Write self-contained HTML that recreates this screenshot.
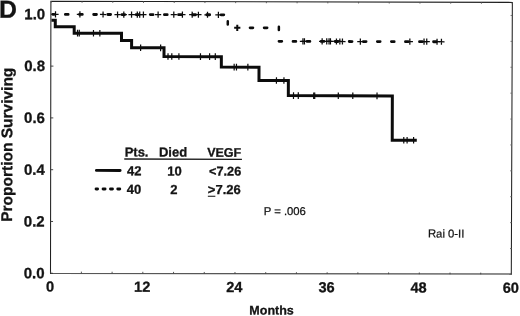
<!DOCTYPE html><html><head><meta charset="utf-8"><style>html,body{margin:0;padding:0;background:#fff;overflow:hidden}svg{display:block}text{font-family:"Liberation Sans",sans-serif;fill:#141414}text[font-weight=bold]{stroke:#141414;stroke-width:0.3px}</style></head><body>
<svg width="520" height="316" viewBox="0 0 520 316">
<rect width="520" height="316" fill="#fff"/>
<defs><filter id="b" x="0" y="0" width="520" height="316" filterUnits="userSpaceOnUse" color-interpolation-filters="sRGB"><feGaussianBlur stdDeviation="0.35"/></filter></defs>
<polygon points="50.9,1.25 512.35,2.4 511.3,274.1 50.5,273.6" fill="none" stroke="#202020" stroke-width="1.05"/>
<g filter="url(#b)">
<g transform="rotate(0.1432 281.5 137.7)">
<line x1="50.65" x2="53.25" y1="14.90" y2="14.90" stroke="#333" stroke-width="0.9"/>
<line x1="510.3" x2="511.8" y1="14.90" y2="14.90" stroke="#666" stroke-width="0.9"/>
<line x1="510.3" x2="511.8" y1="40.79" y2="40.79" stroke="#666" stroke-width="0.9"/>
<line x1="50.65" x2="53.25" y1="66.69" y2="66.69" stroke="#333" stroke-width="0.9"/>
<line x1="510.3" x2="511.8" y1="66.69" y2="66.69" stroke="#666" stroke-width="0.9"/>
<line x1="510.3" x2="511.8" y1="92.59" y2="92.59" stroke="#666" stroke-width="0.9"/>
<line x1="50.65" x2="53.25" y1="118.48" y2="118.48" stroke="#333" stroke-width="0.9"/>
<line x1="510.3" x2="511.8" y1="118.48" y2="118.48" stroke="#666" stroke-width="0.9"/>
<line x1="510.3" x2="511.8" y1="144.38" y2="144.38" stroke="#666" stroke-width="0.9"/>
<line x1="50.65" x2="53.25" y1="170.27" y2="170.27" stroke="#333" stroke-width="0.9"/>
<line x1="510.3" x2="511.8" y1="170.27" y2="170.27" stroke="#666" stroke-width="0.9"/>
<line x1="510.3" x2="511.8" y1="196.16" y2="196.16" stroke="#666" stroke-width="0.9"/>
<line x1="50.65" x2="53.25" y1="222.06" y2="222.06" stroke="#333" stroke-width="0.9"/>
<line x1="510.3" x2="511.8" y1="222.06" y2="222.06" stroke="#666" stroke-width="0.9"/>
<line x1="510.3" x2="511.8" y1="247.96" y2="247.96" stroke="#666" stroke-width="0.9"/>
<line x1="50.65" x2="53.25" y1="273.85" y2="273.85" stroke="#333" stroke-width="0.9"/>
<line x1="510.3" x2="511.8" y1="273.85" y2="273.85" stroke="#666" stroke-width="0.9"/>
<line x1="51.00" x2="51.00" y1="272.15000000000003" y2="273.85" stroke="#444" stroke-width="0.9"/>
<line x1="51.00" x2="51.00" y1="1.75" y2="3.25" stroke="#555" stroke-width="0.9"/>
<line x1="81.72" x2="81.72" y1="272.15000000000003" y2="273.85" stroke="#444" stroke-width="0.9"/>
<line x1="81.72" x2="81.72" y1="1.75" y2="3.25" stroke="#555" stroke-width="0.9"/>
<line x1="112.44" x2="112.44" y1="272.15000000000003" y2="273.85" stroke="#444" stroke-width="0.9"/>
<line x1="112.44" x2="112.44" y1="1.75" y2="3.25" stroke="#555" stroke-width="0.9"/>
<line x1="143.16" x2="143.16" y1="272.15000000000003" y2="273.85" stroke="#444" stroke-width="0.9"/>
<line x1="143.16" x2="143.16" y1="1.75" y2="3.25" stroke="#555" stroke-width="0.9"/>
<line x1="173.88" x2="173.88" y1="272.15000000000003" y2="273.85" stroke="#444" stroke-width="0.9"/>
<line x1="173.88" x2="173.88" y1="1.75" y2="3.25" stroke="#555" stroke-width="0.9"/>
<line x1="204.60" x2="204.60" y1="272.15000000000003" y2="273.85" stroke="#444" stroke-width="0.9"/>
<line x1="204.60" x2="204.60" y1="1.75" y2="3.25" stroke="#555" stroke-width="0.9"/>
<line x1="235.32" x2="235.32" y1="272.15000000000003" y2="273.85" stroke="#444" stroke-width="0.9"/>
<line x1="235.32" x2="235.32" y1="1.75" y2="3.25" stroke="#555" stroke-width="0.9"/>
<line x1="266.04" x2="266.04" y1="272.15000000000003" y2="273.85" stroke="#444" stroke-width="0.9"/>
<line x1="266.04" x2="266.04" y1="1.75" y2="3.25" stroke="#555" stroke-width="0.9"/>
<line x1="296.76" x2="296.76" y1="272.15000000000003" y2="273.85" stroke="#444" stroke-width="0.9"/>
<line x1="296.76" x2="296.76" y1="1.75" y2="3.25" stroke="#555" stroke-width="0.9"/>
<line x1="327.48" x2="327.48" y1="272.15000000000003" y2="273.85" stroke="#444" stroke-width="0.9"/>
<line x1="327.48" x2="327.48" y1="1.75" y2="3.25" stroke="#555" stroke-width="0.9"/>
<line x1="358.20" x2="358.20" y1="272.15000000000003" y2="273.85" stroke="#444" stroke-width="0.9"/>
<line x1="358.20" x2="358.20" y1="1.75" y2="3.25" stroke="#555" stroke-width="0.9"/>
<line x1="388.92" x2="388.92" y1="272.15000000000003" y2="273.85" stroke="#444" stroke-width="0.9"/>
<line x1="388.92" x2="388.92" y1="1.75" y2="3.25" stroke="#555" stroke-width="0.9"/>
<line x1="419.64" x2="419.64" y1="272.15000000000003" y2="273.85" stroke="#444" stroke-width="0.9"/>
<line x1="419.64" x2="419.64" y1="1.75" y2="3.25" stroke="#555" stroke-width="0.9"/>
<line x1="450.36" x2="450.36" y1="272.15000000000003" y2="273.85" stroke="#444" stroke-width="0.9"/>
<line x1="450.36" x2="450.36" y1="1.75" y2="3.25" stroke="#555" stroke-width="0.9"/>
<line x1="481.08" x2="481.08" y1="272.15000000000003" y2="273.85" stroke="#444" stroke-width="0.9"/>
<line x1="481.08" x2="481.08" y1="1.75" y2="3.25" stroke="#555" stroke-width="0.9"/>
<line x1="511.80" x2="511.80" y1="272.15000000000003" y2="273.85" stroke="#444" stroke-width="0.9"/>
<line x1="511.80" x2="511.80" y1="1.75" y2="3.25" stroke="#555" stroke-width="0.9"/>
<polyline points="51.20,20.87 55.00,20.87 55.00,27.24 73.93,27.24 73.93,33.65 121.25,33.65 121.25,40.89 131.37,40.89 131.37,48.13 163.80,48.13 163.80,56.83 221.16,56.83 221.16,67.25 258.84,67.25 258.84,80.50 288.23,80.50 288.23,95.60 392.25,95.60 392.25,139.90 416.80,139.90" fill="none" stroke="#0c0c0c" stroke-width="3.0" stroke-linejoin="miter"/>
<line x1="77.3" x2="77.3" y1="30.35" y2="36.95" stroke="#0c0c0c" stroke-width="1.2"/>
<line x1="79.0" x2="79.0" y1="30.35" y2="36.95" stroke="#0c0c0c" stroke-width="1.2"/>
<line x1="93.2" x2="93.2" y1="30.35" y2="36.95" stroke="#0c0c0c" stroke-width="1.2"/>
<line x1="99.6" x2="99.6" y1="30.35" y2="36.95" stroke="#0c0c0c" stroke-width="1.2"/>
<line x1="140.4" x2="140.4" y1="44.83" y2="51.43" stroke="#0c0c0c" stroke-width="1.2"/>
<line x1="160.4" x2="160.4" y1="44.83" y2="51.43" stroke="#0c0c0c" stroke-width="1.2"/>
<line x1="167.8" x2="167.8" y1="53.53" y2="60.13" stroke="#0c0c0c" stroke-width="1.2"/>
<line x1="171.6" x2="171.6" y1="53.53" y2="60.13" stroke="#0c0c0c" stroke-width="1.2"/>
<line x1="178.7" x2="178.7" y1="53.53" y2="60.13" stroke="#0c0c0c" stroke-width="1.2"/>
<line x1="200.25" x2="200.25" y1="53.53" y2="60.13" stroke="#0c0c0c" stroke-width="1.2"/>
<line x1="209.4" x2="209.4" y1="53.53" y2="60.13" stroke="#0c0c0c" stroke-width="1.2"/>
<line x1="215.1" x2="215.1" y1="53.53" y2="60.13" stroke="#0c0c0c" stroke-width="1.2"/>
<line x1="234" x2="234" y1="63.95" y2="70.55" stroke="#0c0c0c" stroke-width="1.2"/>
<line x1="236.3" x2="236.3" y1="63.95" y2="70.55" stroke="#0c0c0c" stroke-width="1.2"/>
<line x1="247.7" x2="247.7" y1="63.95" y2="70.55" stroke="#0c0c0c" stroke-width="1.2"/>
<line x1="276.3" x2="276.3" y1="77.20" y2="83.80" stroke="#0c0c0c" stroke-width="1.2"/>
<line x1="283.8" x2="283.8" y1="77.20" y2="83.80" stroke="#0c0c0c" stroke-width="1.2"/>
<line x1="293.4" x2="293.4" y1="92.30" y2="98.90" stroke="#0c0c0c" stroke-width="1.2"/>
<line x1="298.2" x2="298.2" y1="92.30" y2="98.90" stroke="#0c0c0c" stroke-width="1.2"/>
<line x1="313.6" x2="313.6" y1="92.30" y2="98.90" stroke="#0c0c0c" stroke-width="1.2"/>
<line x1="314.6" x2="314.6" y1="92.30" y2="98.90" stroke="#0c0c0c" stroke-width="1.2"/>
<line x1="338.2" x2="338.2" y1="92.30" y2="98.90" stroke="#0c0c0c" stroke-width="1.2"/>
<line x1="352.7" x2="352.7" y1="92.30" y2="98.90" stroke="#0c0c0c" stroke-width="1.2"/>
<line x1="376.9" x2="376.9" y1="92.30" y2="98.90" stroke="#0c0c0c" stroke-width="1.2"/>
<line x1="403.8" x2="403.8" y1="136.60" y2="143.20" stroke="#0c0c0c" stroke-width="1.2"/>
<line x1="407.1" x2="407.1" y1="136.60" y2="143.20" stroke="#0c0c0c" stroke-width="1.2"/>
<line x1="413.6" x2="413.6" y1="136.60" y2="143.20" stroke="#0c0c0c" stroke-width="1.2"/>
<path d="M52.45,14.95 H53.70 M65.05,14.95 H67.85 M79.20,14.95 H82.00 M93.35,14.95 H96.15 M107.50,14.95 H110.30 M121.65,14.95 H124.45 M135.80,14.95 H138.60 M149.95,14.95 H152.75 M164.10,14.95 H166.90 M178.25,14.95 H181.05 M192.40,14.95 H195.20 M206.55,14.95 H209.35 M220.70,14.95 H223.50" fill="none" stroke="#0c0c0c" stroke-width="2.8" stroke-linecap="round"/>
<path d="M227.5,21.3 V24.6" fill="none" stroke="#0c0c0c" stroke-width="2.5" stroke-linecap="round"/>
<path d="M249.8,27.9 H252.6 M263.9,27.9 H266.8" fill="none" stroke="#0c0c0c" stroke-width="2.8" stroke-linecap="round"/>
<path d="M278.6,26.7 V30" fill="none" stroke="#0c0c0c" stroke-width="2.5" stroke-linecap="round"/>
<path d="M278.75,41.35 H281.55 M292.80,41.35 H295.60 M306.85,41.35 H309.65 M320.90,41.35 H323.70 M334.95,41.35 H337.75 M349.00,41.35 H351.80 M363.05,41.35 H365.85 M377.10,41.35 H379.90 M391.15,41.35 H393.95 M405.20,41.35 H408.00 M419.25,41.35 H422.05 M433.30,41.35 H436.10" fill="none" stroke="#0c0c0c" stroke-width="2.8" stroke-linecap="round"/>
<path d="M52.10,14.95 H58.30 M55.20,11.85 V18.05" stroke="#0c0c0c" stroke-width="1.25" fill="none"/>
<path d="M76.50,14.95 H82.70 M79.60,11.85 V18.05" stroke="#0c0c0c" stroke-width="1.25" fill="none"/>
<path d="M99.65,14.95 H105.85 M102.75,11.85 V18.05" stroke="#0c0c0c" stroke-width="1.25" fill="none"/>
<path d="M114.15,14.95 H120.35 M117.25,11.85 V18.05" stroke="#0c0c0c" stroke-width="1.25" fill="none"/>
<path d="M120.40,14.95 H126.60 M123.50,11.85 V18.05" stroke="#0c0c0c" stroke-width="1.25" fill="none"/>
<path d="M128.15,14.95 H134.35 M131.25,11.85 V18.05" stroke="#0c0c0c" stroke-width="1.25" fill="none"/>
<path d="M133.90,14.95 H140.10 M137.00,11.85 V18.05" stroke="#0c0c0c" stroke-width="1.25" fill="none"/>
<path d="M136.30,14.95 H142.50 M139.40,11.85 V18.05" stroke="#0c0c0c" stroke-width="1.25" fill="none"/>
<path d="M140.00,14.95 H146.20 M143.10,11.85 V18.05" stroke="#0c0c0c" stroke-width="1.25" fill="none"/>
<path d="M154.70,14.95 H160.90 M157.80,11.85 V18.05" stroke="#0c0c0c" stroke-width="1.25" fill="none"/>
<path d="M170.40,14.95 H176.60 M173.50,11.85 V18.05" stroke="#0c0c0c" stroke-width="1.25" fill="none"/>
<path d="M179.00,14.95 H185.20 M182.10,11.85 V18.05" stroke="#0c0c0c" stroke-width="1.25" fill="none"/>
<path d="M188.80,14.95 H195.00 M191.90,11.85 V18.05" stroke="#0c0c0c" stroke-width="1.25" fill="none"/>
<path d="M195.00,14.95 H201.20 M198.10,11.85 V18.05" stroke="#0c0c0c" stroke-width="1.25" fill="none"/>
<path d="M204.10,14.95 H210.30 M207.20,11.85 V18.05" stroke="#0c0c0c" stroke-width="1.25" fill="none"/>
<path d="M215.00,14.95 H221.20 M218.10,11.85 V18.05" stroke="#0c0c0c" stroke-width="1.25" fill="none"/>
<path d="M233.90,27.90 H240.10 M237.00,24.80 V31.00" stroke="#0c0c0c" stroke-width="2.0" fill="none"/>
<path d="M299.60,41.35 H305.80 M302.70,38.25 V44.45" stroke="#0c0c0c" stroke-width="1.25" fill="none"/>
<path d="M301.10,41.35 H307.30 M304.20,38.25 V44.45" stroke="#0c0c0c" stroke-width="1.25" fill="none"/>
<path d="M318.80,41.35 H325.00 M321.90,38.25 V44.45" stroke="#0c0c0c" stroke-width="1.25" fill="none"/>
<path d="M323.40,41.35 H329.60 M326.50,38.25 V44.45" stroke="#0c0c0c" stroke-width="1.25" fill="none"/>
<path d="M325.70,41.35 H331.90 M328.80,38.25 V44.45" stroke="#0c0c0c" stroke-width="1.25" fill="none"/>
<path d="M327.10,41.35 H333.30 M330.20,38.25 V44.45" stroke="#0c0c0c" stroke-width="1.25" fill="none"/>
<path d="M333.10,41.35 H339.30 M336.20,38.25 V44.45" stroke="#0c0c0c" stroke-width="1.25" fill="none"/>
<path d="M336.50,41.35 H342.70 M339.60,38.25 V44.45" stroke="#0c0c0c" stroke-width="1.25" fill="none"/>
<path d="M339.10,41.35 H345.30 M342.20,38.25 V44.45" stroke="#0c0c0c" stroke-width="1.25" fill="none"/>
<path d="M357.00,41.35 H363.20 M360.10,38.25 V44.45" stroke="#0c0c0c" stroke-width="1.25" fill="none"/>
<path d="M406.50,41.35 H412.70 M409.60,38.25 V44.45" stroke="#0c0c0c" stroke-width="1.25" fill="none"/>
<path d="M420.70,41.35 H426.90 M423.80,38.25 V44.45" stroke="#0c0c0c" stroke-width="1.25" fill="none"/>
<path d="M423.40,41.35 H429.60 M426.50,38.25 V44.45" stroke="#0c0c0c" stroke-width="1.25" fill="none"/>
<path d="M433.70,41.35 H439.90 M436.80,38.25 V44.45" stroke="#0c0c0c" stroke-width="1.25" fill="none"/>
<path d="M438.10,41.35 H444.30 M441.20,38.25 V44.45" stroke="#0c0c0c" stroke-width="1.25" fill="none"/>
<text x="-1.3" y="18.4" font-size="24.8" font-weight="bold">D</text>
<text x="44.9" y="19.9" font-size="15" font-weight="bold" text-anchor="end">1.0</text>
<text x="44.9" y="71.7" font-size="15" font-weight="bold" text-anchor="end">0.8</text>
<text x="44.9" y="123.5" font-size="15" font-weight="bold" text-anchor="end">0.6</text>
<text x="44.9" y="175.3" font-size="15" font-weight="bold" text-anchor="end">0.4</text>
<text x="44.9" y="227.1" font-size="15" font-weight="bold" text-anchor="end">0.2</text>
<text x="44.9" y="278.9" font-size="15" font-weight="bold" text-anchor="end">0.0</text>
<text x="50.4" y="292.1" font-size="14.6" font-weight="bold" text-anchor="middle">0</text>
<text x="142.6" y="292.1" font-size="14.6" font-weight="bold" text-anchor="middle">12</text>
<text x="234.7" y="292.1" font-size="14.6" font-weight="bold" text-anchor="middle">24</text>
<text x="326.9" y="292.1" font-size="14.6" font-weight="bold" text-anchor="middle">36</text>
<text x="419.0" y="292.1" font-size="14.6" font-weight="bold" text-anchor="middle">48</text>
<text x="511.2" y="292.1" font-size="14.6" font-weight="bold" text-anchor="middle">60</text>
<text x="272" y="314.5" font-size="12.5" font-weight="bold" text-anchor="middle">Months</text>
<text transform="translate(12.3,145.4) rotate(-90)" font-size="15.5" font-weight="bold" text-anchor="middle">Proportion Surviving</text>
<text x="124.7" y="156.8" font-size="13" font-weight="bold">Pts.</text>
<text x="159" y="156.8" font-size="13" font-weight="bold">Died</text>
<text x="207.2" y="156.8" font-size="12.5" font-weight="bold">VEGF</text>
<line x1="124.3" x2="242" y1="159.4" y2="159.4" stroke="#1a1a1a" stroke-width="1.35"/>
<text x="127" y="175.7" font-size="13" font-weight="bold">42</text>
<text x="174.6" y="175.7" font-size="13" font-weight="bold" text-anchor="middle">10</text>
<text x="209.2" y="175.7" font-size="12.7" font-weight="bold">&lt;7.26</text>
<text x="127" y="194.2" font-size="13" font-weight="bold">40</text>
<text x="174" y="194.2" font-size="13" font-weight="bold" text-anchor="middle">2</text>
<text x="208" y="194.2" font-size="13" font-weight="bold">&gt;7.26</text>
<line x1="208" x2="215.5" y1="196.5" y2="196.5" stroke="#0c0c0c" stroke-width="1"/>
<line x1="96.5" x2="120.2" y1="170.85" y2="170.85" stroke="#0c0c0c" stroke-width="2.9" stroke-linecap="round"/>
<path d="M96.2,189.4 h1.5 M103.2,189.4 h2 M110.6,189.4 h2 M117.9,189.4 h2" fill="none" stroke="#0c0c0c" stroke-width="2.9" stroke-linecap="round"/>
<text x="263.9" y="215" font-size="11.3" stroke="#141414" stroke-width="0.25">P = .006</text>
<text x="428.2" y="237" font-size="11.3" stroke="#141414" stroke-width="0.25">Rai 0-II</text>
</g></g>
</svg></body></html>
